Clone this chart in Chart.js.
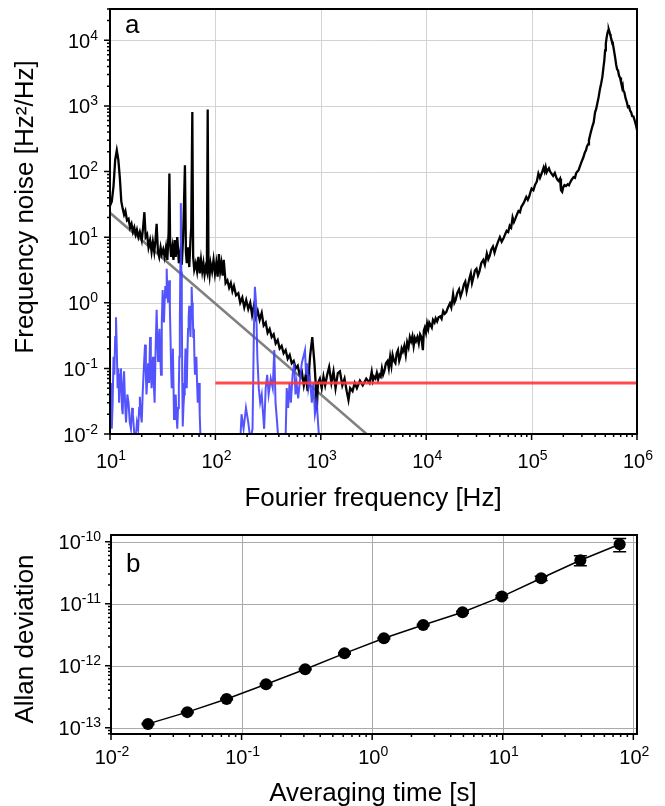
<!DOCTYPE html>
<html>
<head>
<meta charset="utf-8">
<script src="https://cdn.jsdelivr.net/npm/chart.js@4.4.1/dist/chart.umd.min.js"></script>
<style>
  html, body { margin: 0; padding: 0; background: #fff; }
  #wa { position: absolute; left: 0; top: 0; }
  #wb { position: absolute; left: 0; top: 520px; }
</style>
</head>
<body>
<canvas id="wa" width="665" height="520"></canvas>
<canvas id="wb" width="665" height="286"></canvas>
<script>
// ---- panel a: frequency noise spectrum ----
const freqBlack = [10, 10.4, 10.8, 11.2, 11.6, 12, 12.4, 12.8, 13.2, 13.6, 14, 14.5, 15, 15.5, 16, 16.5, 17, 17.5, 18, 18.6,
  19.2, 20, 20.6, 21.2, 21.8, 22.5, 23.2, 24, 24.8, 25.5, 26.3, 27, 27.7, 28.5, 29.3, 30.2, 31, 32, 33, 34,
  35, 36, 36.6, 37.2, 38, 39, 40, 41, 42, 43.5, 45, 46.5, 48, 49.5, 51.4, 52.5, 53.5, 55, 56.5, 58,
  59, 60.4, 61.5, 63, 65, 67, 69, 71, 73, 75, 77, 79, 81, 83, 84.5, 86, 88, 90, 93, 96,
  99, 102, 105, 108, 111, 114, 117, 120, 125, 130, 135, 140, 145, 150, 157, 165, 172, 180, 188, 196,
  205, 214, 223, 232, 242, 252, 263, 275, 287, 300, 313, 327, 342, 357, 373, 390, 407, 425, 444, 464,
  485, 507, 530, 553, 578, 604, 631, 660, 690, 720, 750, 790, 830, 870, 900, 915, 940, 980, 1020, 1060,
  1100, 1150, 1200, 1260, 1320, 1380, 1450, 1520, 1600, 1680, 1760, 1830, 1900, 2000, 2100, 2200, 2350, 2500, 2700, 2900,
  3040, 3120, 3200, 3300, 3400, 3500, 3600, 3700, 3800, 3900, 4000, 4150, 4300, 4420, 4550, 4680, 4800, 4950, 5100, 5250,
  5400, 5550, 5700, 5850, 6000, 6200, 6400, 6600, 6800, 7000, 7200, 7400, 7600, 7800, 8000, 8250, 8500, 8750, 9000, 9300,
  9500, 9700, 9950, 10200, 10450, 10700, 11000, 11300, 11600, 12000, 12300, 12700, 13100, 13600, 14000, 14500, 15000, 15500, 16100, 16800,
  17300, 18000, 18500, 19000, 19700, 20500, 21200, 22000, 22800, 23500, 24200, 25000, 25800, 26500, 27200, 28000, 29000, 30000, 31000, 32000,
  33300, 34800, 36000, 37600, 38800, 40000, 41500, 43000, 44500, 46000, 48000, 50000, 52000, 54000, 56000, 58000, 60000, 62000, 64000, 66000,
  68000, 70000, 72500, 75000, 77500, 80000, 84000, 89000, 92000, 95000, 98000, 100000, 104000, 108000, 112000, 116000, 120000, 125000, 130000, 133000,
  136000, 139000, 142000, 146000, 150000, 155000, 160000, 166000, 172000, 176000, 180000, 186000, 190000, 195000, 200000, 205000, 212000, 220000, 226000, 231000,
  240000, 250000, 258000, 265000, 272000, 279000, 290000, 300000, 310000, 320000, 328000, 335000, 343000, 350000, 362000, 376000, 388000, 400000, 410000, 420000,
  432000, 445000, 457000, 469000, 480000, 490000, 498000, 506000, 515000, 525000, 532000, 540000, 548000, 555000, 562000, 570000, 580000, 590000, 605000, 620000,
  635000, 648000, 660000, 675000, 690000, 705000, 720000, 730000, 740000, 760000, 780000, 800000, 820000, 840000, 860000, 880000, 900000, 925000, 950000, 975000,
  1000000];
const noiseBlack = [30, 35, 60, 150, 210, 150, 80, 35, 27, 22, 25, 18, 19, 14, 16, 12, 14, 11, 13, 10,
  12, 9, 14, 24, 10, 11, 7, 9, 6, 8.5, 6, 9, 16, 6, 5, 7, 5.5, 6.5, 5, 7,
  4.5, 12, 93, 8, 5, 7, 4.5, 9, 5, 10, 4, 6, 3.8, 11, 125, 6, 4, 7, 3.5, 9,
  14, 810, 5, 3.2, 4, 3, 5, 2.8, 4.5, 3, 4, 2.7, 3.5, 3, 880, 3.5, 2.6, 4, 3, 4.5,
  2.8, 4, 2.5, 5.5, 3, 4, 2.6, 4.5, 2, 2.2, 1.7, 2, 1.5, 1.8, 1.3, 1.4, 1.0, 1.2, 0.85, 1.1,
  0.8, 1.0, 0.65, 0.9, 0.6, 0.75, 0.55, 0.7, 0.45, 0.5, 0.35, 0.4, 0.3, 0.33, 0.24, 0.27, 0.2, 0.22, 0.17, 0.19,
  0.14, 0.16, 0.12, 0.13, 0.1, 0.11, 0.08, 0.09, 0.055, 0.08, 0.045, 0.15, 0.30, 0.12, 0.05, 0.023, 0.06, 0.07, 0.05, 0.075,
  0.055, 0.08, 0.105, 0.06, 0.09, 0.05, 0.085, 0.09, 0.055, 0.07, 0.045, 0.033, 0.05, 0.045, 0.06, 0.05, 0.065, 0.055, 0.07, 0.06,
  0.089, 0.065, 0.075, 0.07, 0.085, 0.068, 0.08, 0.075, 0.1, 0.08, 0.09, 0.12, 0.13, 0.1, 0.15, 0.11, 0.16, 0.13, 0.12, 0.17,
  0.19, 0.13, 0.15, 0.2, 0.18, 0.22, 0.16, 0.25, 0.21, 0.3, 0.26, 0.31, 0.22, 0.29, 0.26, 0.3, 0.24, 0.33, 0.3, 0.19,
  0.38, 0.42, 0.35, 0.48, 0.4, 0.5, 0.46, 0.42, 0.55, 0.5, 0.58, 0.52, 0.6, 0.62, 0.57, 0.75, 0.68, 0.72, 0.85, 0.98,
  0.85, 1.35, 1.0, 1.1, 1.4, 1.6, 1.25, 1.5, 1.9, 2.1, 1.5, 1.9, 2.4, 2.8, 2.0, 2.4, 3.1, 3.3, 2.6, 3.0,
  4.0, 4.5, 3.8, 5.6, 4.6, 5.2, 6.5, 7.2, 5.8, 7.0, 8.5, 10, 8.5, 9.5, 11, 12.5, 12, 15, 14, 20,
  17, 19, 22, 25, 24, 29, 33, 41, 37, 42, 50, 55, 52, 63, 70, 93, 80, 95, 115, 100,
  117, 98, 105, 112, 100, 92, 86, 95, 80, 75, 72, 78, 52, 49, 58, 62, 60, 64, 62, 67,
  75, 82, 80, 95, 100, 105, 125, 145, 165, 195, 210, 240, 260, 300, 380, 480, 560, 800, 900, 1090,
  1350, 1800, 2200, 2750, 3800, 5000, 7000, 8900, 11000, 13000, 14000, 14600, 13500, 12500, 11500, 10500, 9500, 8900, 7000, 5500,
  4200, 3600, 3500, 2900, 2700, 2300, 2000, 2100, 1730, 1600, 1300, 1150, 960, 980, 850, 800, 700, 690, 600, 520,
  430];

const freqBlue = [10, 10.2, 10.4, 10.6, 10.8, 11, 11.2, 11.4, 11.6, 11.8, 12, 12.2, 12.5, 12.7, 13, 13.2, 13.4, 13.6, 13.9, 14.2,
  14.6, 15, 15.4, 15.8, 16.2, 16.5, 17, 17.5, 18, 18.5, 18.9, 19.2, 19.6, 20, 20.4, 20.8, 21.2, 21.5, 21.9, 22.2,
  22.6, 23, 23.5, 24, 24.4, 24.8, 25.2, 25.6, 26, 26.5, 27.1, 27.7, 28.1, 28.6, 29, 29.5, 30, 30.5, 31, 31.6,
  32, 32.5, 33, 33.5, 34, 34.5, 35, 35.5, 36, 36.5, 37, 37.5, 38, 38.5, 39, 39.5, 40, 40.5, 41.2, 42,
  42.7, 43.5, 44.2, 45, 45.5, 46, 46.5, 47, 47.5, 48, 48.5, 49, 49.7, 50.5, 51.2, 52, 52.7, 53.5, 54.2, 55,
  55.7, 56.5, 57.2, 58, 58.8, 59.5, 60.2, 61, 61.7, 62.5, 63.2, 64, 65, 66, 67, 68, 69, 70, 71, 72,
  74, 170, 177, 185, 195, 205, 215, 225, 232, 237, 243, 250, 258, 266, 275, 290, 300, 310, 320, 335,
  350, 362, 372, 385, 396, 410, 460, 475, 490, 505, 520, 540, 560, 575, 590, 610, 636, 660, 690, 708,
  725, 745, 763, 790, 822, 850, 880, 916, 950, 990];
const noiseBlue = [0.02, 0.06, 0.012, 0.03, 0.15, 0.08, 0.3, 0.6, 0.2, 0.05, 0.1, 0.03, 0.08, 0.1, 0.025, 0.02, 0.06, 0.09, 0.03, 0.015,
  0.04, 0.03, 0.015, 0.012, 0.025, 0.02, 0.01, 0.008, 0.015, 0.012, 0.025, 0.037, 0.02, 0.015, 0.04, 0.08, 0.15, 0.23, 0.08, 0.04,
  0.07, 0.12, 0.06, 0.30, 0.1, 0.05, 0.09, 0.15, 0.06, 0.03, 0.2, 0.78, 0.3, 0.13, 0.25, 0.4, 0.15, 0.08, 0.5, 1.56,
  0.8, 0.5, 1.1, 1.8, 1.2, 3.3, 1.5, 1.0, 1.6, 2.2, 0.8, 0.3, 0.1, 0.05, 0.1, 0.2, 0.06, 0.017, 0.03, 0.04,
  0.02, 0.012, 0.025, 0.05, 0.15, 0.5, 4, 33, 3, 0.8, 0.06, 0.013, 0.025, 0.04, 0.08, 0.2, 0.1, 0.05, 0.15, 0.4,
  0.6, 0.9, 0.5, 0.3, 0.8, 1.75, 1.0, 0.7, 0.3, 0.4, 0.15, 0.08, 0.12, 0.15, 0.06, 0.03, 0.05, 0.06, 0.02, 0.01,
  0.005, 0.005, 0.02, 0.012, 0.025, 0.015, 0.008, 0.012, 0.4, 1.75, 1.0, 0.15, 0.05, 0.03, 0.04, 0.012, 0.05, 0.08, 0.04, 0.07,
  0.05, 0.19, 0.03, 0.015, 0.008, 0.005, 0.005, 0.05, 0.025, 0.06, 0.03, 0.08, 0.12, 0.04, 0.06, 0.035, 0.07, 0.12, 0.16, 0.19,
  0.08, 0.12, 0.05, 0.07, 0.03, 0.06, 0.02, 0.03, 0.012, 0.005];

const freqGray = [10, 2720];
const noiseGray = [23.5, 0.01];
const freqRed = [100, 1000000];
const noiseRed = [0.06, 0.06];

const xTicksA = [1e1, 1e2, 1e3, 1e4, 1e5, 1e6];
const yTicksA = [1e-2, 1e-1, 1e0, 1e1, 1e2, 1e3, 1e4];

// ---- panel b: Allan deviation ----
const tau = [0.0192, 0.0384, 0.0768, 0.154, 0.307, 0.614, 1.23, 2.46, 4.92, 9.83, 19.7, 39.3, 78.6];
const adev = [1.15e-13, 1.78e-13, 2.9e-13, 5.0e-13, 8.75e-13, 1.58e-12, 2.77e-12, 4.53e-12, 7.26e-12, 1.30e-11, 2.57e-11, 5.0e-11, 9.08e-11];
const adevErr = [3e-15, 5e-15, 8e-15, 1.5e-14, 2.5e-14, 5e-14, 8e-14, 1.4e-13, 2.5e-13, 5e-13, 2e-12, 9e-12, 2.2e-11];

const xTicksB = [1e-2, 1e-1, 1e0, 1e1, 1e2];
const yTicksB = [1e-13, 1e-12, 1e-11, 1e-10];

const FONT = '"Liberation Sans", Arial, sans-serif';

function pts(xs, ys) {
  return xs.map((x, i) => ({ x: x, y: ys[i] }));
}

function minors(scale) {
  const out = [];
  const lo = Math.floor(Math.log10(scale.min)), hi = Math.ceil(Math.log10(scale.max));
  for (let d = lo; d <= hi; d++) {
    for (let m = 2; m <= 9; m++) {
      const v = m * Math.pow(10, d);
      if (v >= scale.min && v <= scale.max) out.push(v);
    }
  }
  return out;
}

function powLabel(ctx, v, x, y, align, o) {
  const e = String(Math.round(Math.log10(v)));
  ctx.font = o.tickSize + 'px ' + FONT;
  const w1 = ctx.measureText('10').width;
  ctx.font = o.supSize + 'px ' + FONT;
  const w2 = ctx.measureText(e).width;
  const x0 = align === 'center' ? x - (w1 + w2) / 2 : x - w1 - w2;
  ctx.textAlign = 'left';
  ctx.textBaseline = 'alphabetic';
  ctx.font = o.tickSize + 'px ' + FONT;
  ctx.fillText('10', x0, y);
  ctx.font = o.supSize + 'px ' + FONT;
  ctx.fillText(e, x0 + w1, y - o.supRaise);
}

const frame = {
  id: 'frame',
  beforeDatasetsDraw(chart, args, o) {
    const { ctx, chartArea: a, scales: { x, y } } = chart;
    ctx.save();
    ctx.strokeStyle = o.gridColor;
    ctx.lineWidth = 1;
    ctx.beginPath();
    o.xTicks.forEach(v => {
      const px = Math.round(x.getPixelForValue(v)) + 0.5;
      ctx.moveTo(px, a.top); ctx.lineTo(px, a.bottom);
    });
    o.yTicks.forEach(v => {
      const py = Math.round(y.getPixelForValue(v)) + 0.5;
      ctx.moveTo(a.left, py); ctx.lineTo(a.right, py);
    });
    ctx.stroke();
    ctx.restore();
  },
  afterDatasetsDraw(chart, args, o) {
    if (!o.errs) return;
    const { ctx, scales: { x, y } } = chart;
    ctx.save();
    ctx.strokeStyle = '#000';
    ctx.lineWidth = 1.5;
    o.errs.forEach((err, i) => {
      const px = x.getPixelForValue(tau[i]);
      const top = y.getPixelForValue(adev[i] + err);
      const bot = y.getPixelForValue(adev[i] - err);
      ctx.beginPath();
      ctx.moveTo(px, top); ctx.lineTo(px, bot);
      ctx.moveTo(px - 6.5, top); ctx.lineTo(px + 6.5, top);
      ctx.moveTo(px - 6.5, bot); ctx.lineTo(px + 6.5, bot);
      ctx.stroke();
    });
    ctx.restore();
  },
  afterDraw(chart, args, o) {
    const { ctx, chartArea: a, scales: { x, y } } = chart;
    ctx.save();
    // ticks, outward
    ctx.strokeStyle = '#000';
    ctx.lineWidth = 1.5;
    ctx.beginPath();
    o.xTicks.forEach(v => {
      const px = x.getPixelForValue(v);
      ctx.moveTo(px, a.bottom); ctx.lineTo(px, a.bottom + 6);
    });
    minors(x).forEach(v => {
      const px = x.getPixelForValue(v);
      ctx.moveTo(px, a.bottom); ctx.lineTo(px, a.bottom + 3);
    });
    o.yTicks.forEach(v => {
      const py = y.getPixelForValue(v);
      ctx.moveTo(a.left, py); ctx.lineTo(a.left - 6, py);
    });
    minors(y).forEach(v => {
      const py = y.getPixelForValue(v);
      ctx.moveTo(a.left, py); ctx.lineTo(a.left - 3, py);
    });
    ctx.stroke();
    // box
    ctx.lineWidth = 2;
    ctx.strokeRect(a.left, a.top, a.right - a.left, a.bottom - a.top);

    ctx.fillStyle = '#000';
    o.xTicks.forEach(v => powLabel(ctx, v, x.getPixelForValue(v) + 1, o.xLabelY, 'center', o));
    o.yTicks.forEach(v => powLabel(ctx, v, o.yLabelX, y.getPixelForValue(v) + 7.5, 'right', o));

    ctx.font = o.titleSize + 'px ' + FONT;
    ctx.textAlign = 'center';
    ctx.textBaseline = 'alphabetic';
    ctx.fillText(o.xTitle, o.xTitlePos[0], o.xTitlePos[1]);
    ctx.save();
    ctx.translate(o.yTitlePos[0], o.yTitlePos[1]);
    ctx.rotate(-Math.PI / 2);
    ctx.fillText(o.yTitle, 0, 0);
    ctx.restore();

    ctx.textAlign = 'left';
    ctx.fillText(o.letter, a.left + 15, o.letterY);
    ctx.restore();
  }
};

function logAxis(min, max, fit) {
  return {
    type: 'logarithmic', min: min, max: max,
    grid: { display: false }, border: { display: false },
    ticks: { display: false },
    afterFit: fit
  };
}

new Chart(document.getElementById('wa'), {
  type: 'line',
  data: {
    datasets: [
      { data: pts(freqRed, noiseRed), borderColor: 'rgba(255,55,55,0.9)', borderWidth: 3 },
      { data: pts(freqBlue, noiseBlue), borderColor: 'rgba(65,65,255,0.9)', borderWidth: 2 },
      { data: pts(freqBlack, noiseBlack), borderColor: '#000', borderWidth: 2.3 },
      { data: pts(freqGray, noiseGray), borderColor: '#808080', borderWidth: 2.5 }
    ]
  },
  options: {
    responsive: false, animation: false,
    layout: { padding: { top: 9, right: 28, left: 0, bottom: 0 } },
    elements: { point: { radius: 0 }, line: { tension: 0 } },
    plugins: {
      legend: { display: false }, tooltip: { enabled: false },
      frame: {
        xTicks: xTicksA, yTicks: yTicksA, gridColor: '#d3d3d3',
        tickSize: 20, supSize: 14, supRaise: 8,
        xLabelY: 468, yLabelX: 98,
        titleSize: 26,
        xTitle: 'Fourier frequency [Hz]', xTitlePos: [373, 506],
        yTitle: 'Frequency noise [Hz\u00b2/Hz]', yTitlePos: [33, 207],
        letter: 'a', letterY: 33
      }
    },
    scales: {
      x: logAxis(10, 1e6, s => { s.height = 86; }),
      y: logAxis(0.01, 3e4, s => { s.width = 110; })
    }
  },
  plugins: [frame]
});

new Chart(document.getElementById('wb'), {
  type: 'line',
  data: {
    datasets: [
      { data: pts(tau, adev), borderColor: '#000', borderWidth: 1.5,
        pointRadius: 6, pointBackgroundColor: '#000', pointBorderWidth: 0 }
    ]
  },
  options: {
    responsive: false, animation: false,
    layout: { padding: { top: 15, right: 28, left: 0, bottom: 0 } },
    elements: { line: { tension: 0 } },
    plugins: {
      legend: { display: false }, tooltip: { enabled: false },
      frame: {
        xTicks: xTicksB, yTicks: yTicksB, gridColor: '#aaaaaa',
        errs: adevErr,
        tickSize: 20, supSize: 14, supRaise: 8,
        xLabelY: 244, yLabelX: 101,
        titleSize: 26,
        xTitle: 'Averaging time [s]', xTitlePos: [373, 281],
        yTitle: 'Allan deviation', yTitlePos: [33, 119],
        letter: 'b', letterY: 52
      }
    },
    scales: {
      x: logAxis(0.01, 106.7, s => { s.height = 72; }),
      y: logAxis(7.9e-14, 1.28e-10, s => { s.width = 111; })
    }
  },
  plugins: [frame]
});
</script>
</body>
</html>
